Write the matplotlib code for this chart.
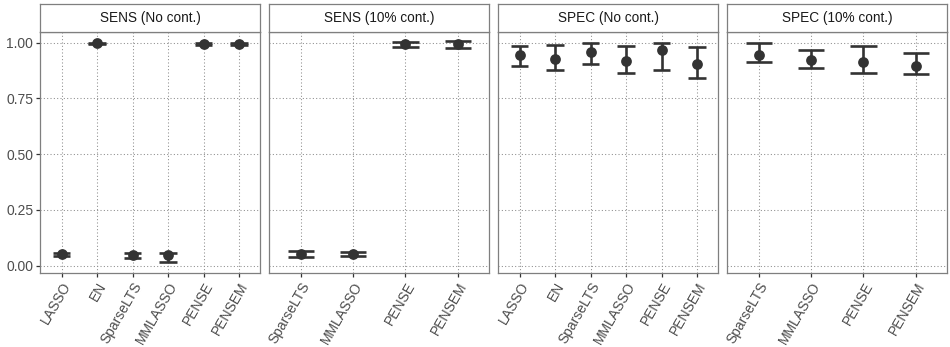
import numpy as np
import matplotlib
matplotlib.use('Agg')
import matplotlib.pyplot as plt

plt.rcParams['font.family'] = ['Liberation Sans', 'DejaVu Sans']

# panel titles and categories (free x scales)
panel_titles = ['SENS (No cont.)', 'SENS (10% cont.)', 'SPEC (No cont.)', 'SPEC (10% cont.)']
cats_full = ['LASSO', 'EN', 'SparseLTS', 'MMLASSO', 'PENSE', 'PENSEM']
cats_cont = ['SparseLTS', 'MMLASSO', 'PENSE', 'PENSEM']
panel_cats = [cats_full, cats_cont, cats_full, cats_cont]

# estimates with lower / upper interval bounds
sens_nc_mid = [0.050, 0.999, 0.047, 0.046, 0.994, 0.996]
sens_nc_lo = [0.045, 0.995, 0.036, 0.016, 0.990, 0.992]
sens_nc_hi = [0.055, 1.000, 0.055, 0.055, 0.999, 1.000]

sens_c_mid = [0.052, 0.052, 0.993, 0.995]
sens_c_lo = [0.039, 0.041, 0.982, 0.976]
sens_c_hi = [0.064, 0.062, 1.002, 1.007]

spec_nc_mid = [0.944, 0.929, 0.957, 0.917, 0.969, 0.904]
spec_nc_lo = [0.894, 0.877, 0.906, 0.865, 0.880, 0.844]
spec_nc_hi = [0.984, 0.989, 1.000, 0.986, 0.999, 0.983]

spec_c_mid = [0.944, 0.921, 0.915, 0.894]
spec_c_lo = [0.912, 0.889, 0.864, 0.861]
spec_c_hi = [0.999, 0.967, 0.984, 0.953]

panel_mid = [sens_nc_mid, sens_c_mid, spec_nc_mid, spec_c_mid]
panel_lo = [sens_nc_lo, sens_c_lo, spec_nc_lo, spec_c_lo]
panel_hi = [sens_nc_hi, sens_c_hi, spec_nc_hi, spec_c_hi]

yticks = [0.0, 0.25, 0.5, 0.75, 1.0]
ytick_labels = ['0.00', '0.25', '0.50', '0.75', '1.00']

W, H = 950, 347
fig = plt.figure(figsize=(W / 100, H / 100), dpi=100)

left0 = 40.3
pw = 220.0
gap = 9.0
ptop = 32.3
pbot = 272.7
strip_top = 4.0

dark = '#333333'
border = '#7f7f7f'

for i in range(4):
    x0 = left0 + i * (pw + gap)
    ax = fig.add_axes([x0 / W, 1 - pbot / H, pw / W, (pbot - ptop) / H])
    cats = panel_cats[i]
    xs = np.arange(len(cats))
    mid = np.array(panel_mid[i])
    lo = np.array(panel_lo[i])
    hi = np.array(panel_hi[i])

    ax.errorbar(xs, mid, yerr=[mid - lo, hi - mid], fmt='none', ecolor=dark,
                elinewidth=1.9, capsize=0, zorder=3)
    # caps: half a category wide
    ax.hlines(lo, xs - 0.25, xs + 0.25, color=dark, lw=1.9, zorder=3)
    ax.hlines(hi, xs - 0.25, xs + 0.25, color=dark, lw=1.9, zorder=3)
    ax.scatter(xs, mid, s=60, color=dark, zorder=4, linewidths=0)

    ax.set_xlim(-0.6, len(cats) - 1 + 0.6)
    ax.set_ylim(-0.032, 1.047)
    ax.set_xticks(xs)
    ax.set_xticklabels(cats, rotation=60, ha='right', va='top',
                       rotation_mode='anchor', fontsize=10, color='#4d4d4d')
    ax.set_yticks(yticks)
    if i == 0:
        ax.set_yticklabels(ytick_labels, fontsize=10, color='#4d4d4d')
    else:
        ax.tick_params(axis='y', labelleft=False, left=False)
    ax.tick_params(axis='both', length=3, width=0.9, color='#333333', pad=2)

    ax.grid(True, linestyle=(0, (1, 2.2)), color='#8c8c8c', lw=0.75)
    ax.set_axisbelow(True)
    for sp in ax.spines.values():
        sp.set_color(border)
        sp.set_linewidth(0.9)

    # strip
    sax = fig.add_axes([x0 / W, 1 - ptop / H, pw / W, (ptop - strip_top) / H])
    sax.set_xticks([])
    sax.set_yticks([])
    for sp in sax.spines.values():
        sp.set_color(border)
        sp.set_linewidth(0.9)
    sax.text(0.5, 0.5, panel_titles[i], ha='center', va='center',
             fontsize=9.8, color='#1a1a1a', transform=sax.transAxes)

fig.savefig('out.png', dpi=100)
